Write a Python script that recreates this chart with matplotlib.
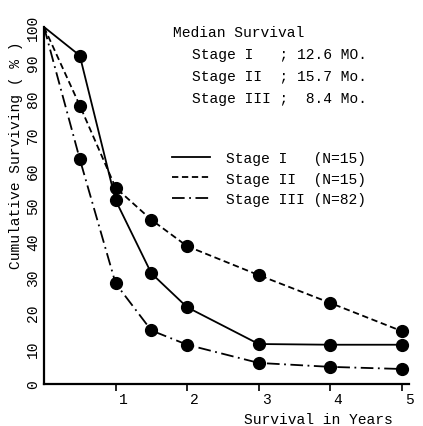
import matplotlib
matplotlib.use("Agg")
import matplotlib.pyplot as plt
import matplotlib.transforms as mtransforms

# Datos (supervivencia acumulada, %)
years = [0, 0.5, 1, 1.5, 2, 3, 4, 5]
stage1 = [100, 92, 51.5, 31, 21.5, 11.2, 11, 11]
stage2 = [100, 78, 55, 46, 38.6, 30.5, 22.7, 14.8]
stage3 = [100, 63, 28.2, 15, 11, 5.9, 4.8, 4.2]

series_labels = ["Stage I   (N=15)", "Stage II  (N=15)", "Stage III (N=82)"]
median_lines = ["Stage I   ; 12.6 MO.", "Stage II  ; 15.7 Mo.", "Stage III ;  8.4 Mo."]
xticks = [1, 2, 3, 4, 5]
yticks = list(range(0, 101, 10))

W, H = 423, 427
plt.rcParams["font.family"] = ["Liberation Mono", "DejaVu Sans Mono"]

fig = plt.figure(figsize=(W / 100, H / 100), dpi=100)
ax = fig.add_axes([44 / W, 42 / H, (409 - 44) / W, (385 - 28) / H])

ax.plot(years[1:], stage1[1:], "o", color="black", ms=8.5, zorder=3)
ax.plot(years[1:], stage2[1:], "o", color="black", ms=8.5, zorder=3)
ax.plot(years[1:], stage3[1:], "o", color="black", ms=8.5, zorder=3)
l1, = ax.plot(years, stage1, color="black", lw=1.3, ls="-")
l2, = ax.plot(years, stage2, color="black", lw=1.3, ls=(0, (3.5, 2)))
l3, = ax.plot(years, stage3, color="black", lw=1.3, ls=(0, (7, 2.5, 1, 2.5)))

ax.set_xlim(0, 5.1)
ax.set_ylim(0, 100)
ax.spines["top"].set_visible(False)
ax.spines["right"].set_visible(False)
ax.spines["left"].set_linewidth(1.6)
ax.spines["bottom"].set_linewidth(1.6)

ax.set_xticks(xticks)
ax.set_xticklabels([str(t) for t in xticks], ha="left")
ax.tick_params(axis="x", direction="out", length=5, width=1.2, pad=1, labelsize=10.5)
shift = mtransforms.ScaledTranslation(3 / 100, 0, fig.dpi_scale_trans)
for lab in ax.get_xticklabels():
    lab.set_transform(lab.get_transform() + shift)
ax.set_yticks(yticks)
ax.set_yticklabels([str(t) for t in yticks], rotation=90, va="center")
ax.tick_params(axis="y", length=0, pad=3, labelsize=10.5)

fig.text(16 / W, 1 - 155 / H, "Cumulative Surviving ( % )", rotation=90,
         ha="center", va="center", fontsize=10.5)
fig.text(318 / W, 1 - 420 / H, "Survival in Years", ha="center", va="center", fontsize=10.5)

fig.text(173 / W, 1 - 33 / H, "Median Survival", ha="left", va="center", fontsize=10.5)
for i, s in enumerate(median_lines):
    fig.text(192 / W, 1 - (55 + 22 * i) / H, s, ha="left", va="center", fontsize=10.5)

ax.legend([l1, l2, l3], series_labels, loc="upper left",
          bbox_to_anchor=(172 / W, 1 - 152 / H), bbox_transform=fig.transFigure,
          frameon=False, handlelength=2.6, handletextpad=1.1, labelspacing=0.45,
          borderpad=0, borderaxespad=0, prop={"size": 10.5})

fig.savefig("out.png", dpi=100)
